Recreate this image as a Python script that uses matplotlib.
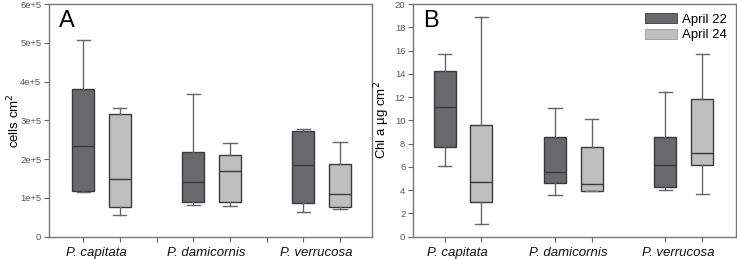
import numpy as np
import matplotlib
matplotlib.use("Agg")
import matplotlib.pyplot as plt
from matplotlib.patches import Patch

plt.rcParams['font.family'] = ['Liberation Sans', 'DejaVu Sans']

species = ['P. capitata', 'P. damicornis', 'P. verrucosa']
dates = ['April 22', 'April 24']

# box stats: whisker low, q1, median, q3, whisker high
cells_apr22 = [[1.15e5, 1.18e5, 2.34e5, 3.82e5, 5.08e5],
               [0.83e5, 0.90e5, 1.42e5, 2.19e5, 3.69e5],
               [0.64e5, 0.86e5, 1.85e5, 2.72e5, 2.78e5]]
cells_apr24 = [[0.56e5, 0.77e5, 1.49e5, 3.16e5, 3.32e5],
               [0.80e5, 0.89e5, 1.69e5, 2.11e5, 2.41e5],
               [0.72e5, 0.76e5, 1.10e5, 1.87e5, 2.44e5]]
chl_apr22 = [[6.07, 7.68, 11.12, 14.21, 15.67],
             [3.58, 4.64, 5.59, 8.60, 11.09],
             [4.02, 4.30, 6.17, 8.55, 12.41]]
chl_apr24 = [[1.06, 2.98, 4.73, 9.60, 18.91],
             [3.95, 3.95, 4.56, 7.74, 10.09],
             [3.64, 6.14, 7.22, 11.84, 15.73]]

dark = '#69696d'
light = '#bfbfbf'
edge = '#3a3a3a'
grey = '#666666'


def make_stats(rows):
    out = []
    for r in rows:
        out.append(dict(whislo=r[0], q1=r[1], med=r[2], q3=r[3], whishi=r[4], fliers=[]))
    return out


def draw_panel(ax, a22, a24, letter, mid_ticks):
    pos22 = [1, 4, 7]
    pos24 = [2, 5, 8]
    for stats, pos, col in [(make_stats(a22), pos22, dark), (make_stats(a24), pos24, light)]:
        ax.bxp(stats, positions=pos, widths=0.6, patch_artist=True, showfliers=False,
               boxprops=dict(facecolor=col, edgecolor=edge, linewidth=1.0),
               medianprops=dict(color=edge, linewidth=1.0),
               whiskerprops=dict(color=grey, linewidth=1.0),
               capprops=dict(color=grey, linewidth=1.0),
               capwidths=0.36)
    if mid_ticks:
        ax.set_xticks([1, 2, 3, 4, 5, 6, 7, 8])
    else:
        ax.set_xticks([1, 2, 4, 5, 7, 8])
    ax.set_xticklabels([])
    for i, s in enumerate(species):
        ax.text(1.35 + 3 * i, -0.045, s, transform=ax.get_xaxis_transform(),
                ha='center', va='top', fontsize=9.5, style='italic', color='#111111')
    ax.tick_params(axis='both', direction='out', length=3.5, width=0.8, color=grey,
                   labelsize=6.8, labelcolor='#555555', pad=2)
    for sp in ax.spines.values():
        sp.set_color('#777777')
        sp.set_linewidth(1.0)
    ax.text(0.03, 0.975, letter, transform=ax.transAxes, fontsize=17, va='top', ha='left')


fig = plt.figure(figsize=(7.37, 2.59), dpi=100)
axA = fig.add_axes([49 / 737, 22.3 / 259, 323 / 737, 232.7 / 259])
axB = fig.add_axes([413 / 737, 22.3 / 259, 323 / 737, 232.7 / 259])

draw_panel(axA, cells_apr22, cells_apr24, 'A', True)
axA.set_xlim(0.07, 8.87)
axA.set_ylim(0, 6e5)
yt = np.arange(0, 7) * 1e5
axA.set_yticks(yt)
axA.set_yticklabels(['0'] + ['%de+5' % i for i in range(1, 7)])
axA.set_ylabel('cells cm$^{2}$', fontsize=9.5)
axA.yaxis.set_label_coords(-0.084, 0.5)

draw_panel(axB, chl_apr22, chl_apr24, 'B', False)
axB.set_xlim(0.14, 8.92)
axB.set_ylim(0, 20)
axB.set_yticks(np.arange(0, 21, 2))
axB.set_ylabel('Chl a \u00b5g cm$^{2}$', fontsize=9.5)
axB.yaxis.set_label_coords(-0.065, 0.5)

handles = [Patch(facecolor=dark, edgecolor=edge, linewidth=0.6),
           Patch(facecolor=light, edgecolor='#999999', linewidth=0.6)]
axB.legend(handles, dates, loc='upper right', frameon=False, fontsize=9.5,
           handlelength=2.4, handleheight=0.75, handletextpad=0.4, labelspacing=0.25,
           borderaxespad=0.3)

fig.savefig('out.png', dpi=100)
